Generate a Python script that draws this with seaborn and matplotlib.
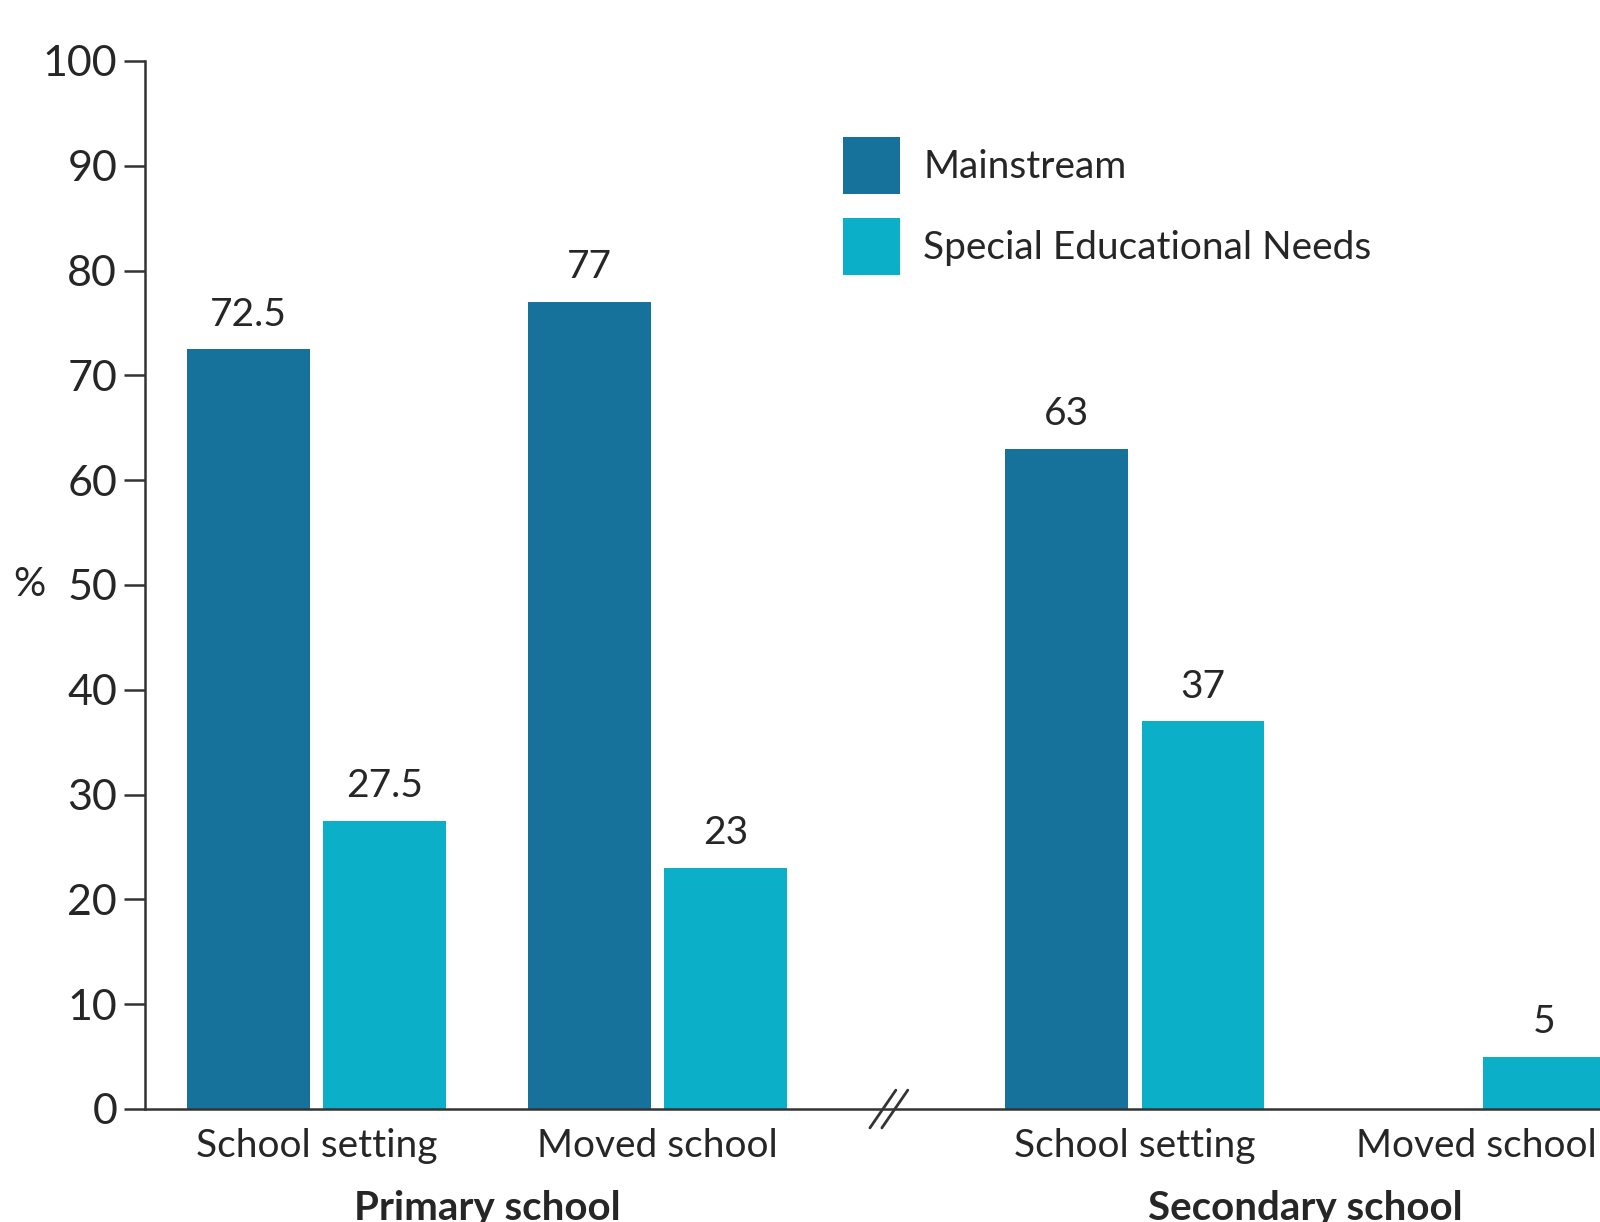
import pandas as pd
import matplotlib
matplotlib.use("Agg")
import matplotlib.pyplot as plt
import seaborn as sns

# data
categories = ["School setting", "Moved school", "School setting", "Moved school"]
stages = ["Primary school", "Secondary school"]
series = ["Mainstream", "Special Educational Needs"]
mainstream = [72.5, 77, 63, 0]
sen = [27.5, 23, 37, 5]
yticks = list(range(0, 101, 10))

# layout: the gap between primary and secondary is wider (axis break)
group_pos = [0, 1, 2.4, 3.4]
colors = {"Mainstream": "#17729b", "Special Educational Needs": "#0bafc8"}

df = pd.DataFrame({
    "pos": group_pos * 2,
    "series": [series[0]] * 4 + [series[1]] * 4,
    "value": mainstream + sen,
})

sns.set_style("white")
plt.rcParams["font.family"] = ["Lato", "DejaVu Sans"]
dark = "#333333"

fig = plt.figure(figsize=(16, 12.22), dpi=100)
ax = fig.add_axes([145 / 1600, 1 - 1109 / 1222, 1 - 145 / 1600, (1109 - 61) / 1222])

sns.barplot(data=df, x="pos", y="value", hue="series", hue_order=series,
            palette=colors, native_scale=True, width=0.8, gap=0.1,
            saturation=1, linewidth=0, ax=ax)

for c in ax.containers:
    labels = [f"{b.get_height():g}" if b.get_height() > 0 else "" for b in c]
    ax.bar_label(c, labels=labels, padding=12, fontsize=28)

ax.set_xlim(-0.503, 3.764)
ax.set_ylim(0, 100)
ax.set_yticks(yticks)
ax.set_yticklabels([str(t) for t in yticks], fontsize=31)
ax.set_xticks(group_pos)
ax.set_xticklabels(categories, fontsize=28)
ax.tick_params(axis="y", left=True, length=15, width=1.8, color=dark, pad=5)
ax.tick_params(axis="x", bottom=False, length=0, pad=14)
ax.set_xlabel("")
ax.set_ylabel("%", rotation=0, fontsize=29, va="center")
ax.yaxis.set_label_coords(-0.0797, 0.5)

sns.despine(ax=ax)
for s in ["left", "bottom"]:
    ax.spines[s].set_linewidth(1.8)
    ax.spines[s].set_color(dark)

# group titles under the tick labels
for i, name in enumerate(stages):
    xc = (group_pos[2 * i] + group_pos[2 * i + 1]) / 2
    ax.text(xc, -0.077, name, transform=ax.get_xaxis_transform(),
            ha="center", va="top", fontsize=29, fontweight="bold")

# axis break marks
for dx in [0, 0.035]:
    ax.plot([1.623 + dx, 1.699 + dx], [-1.8, 1.8], color=dark, lw=2, clip_on=False)

ax.legend(loc="upper left", bbox_to_anchor=(0.4797, 0.9275), frameon=False,
          fontsize=28, handlelength=1.46, handleheight=1.87, labelspacing=0.62,
          handletextpad=0.6, borderpad=0, borderaxespad=0)

fig.savefig("out.png", dpi=100)
